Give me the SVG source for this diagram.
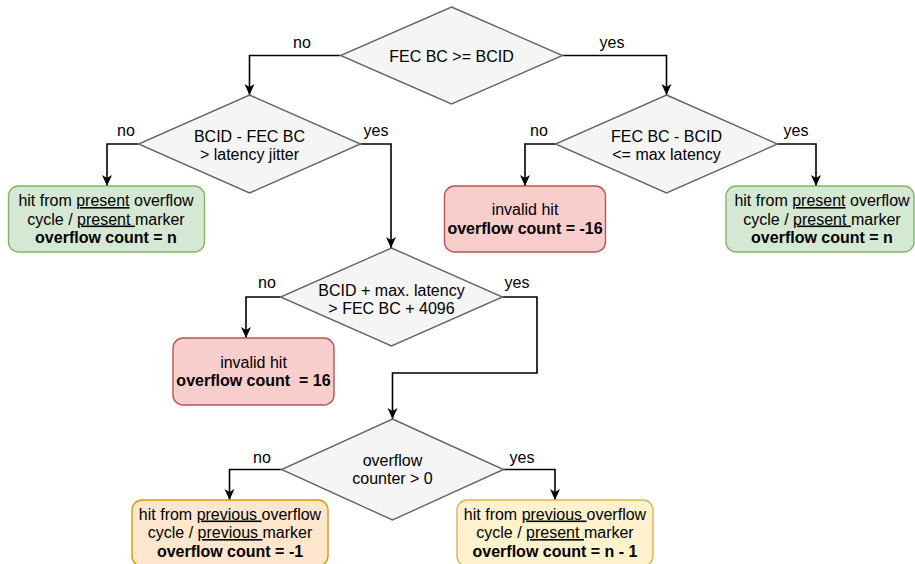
<svg xmlns="http://www.w3.org/2000/svg" width="915" height="564" viewBox="0 0 915 564">
<style>
text{font-family:"Liberation Sans",Arial,sans-serif;font-size:16px;fill:#000;white-space:pre}
.c{text-anchor:middle}
.b{font-weight:bold}
.u{text-decoration:underline}
.dia{fill:#f5f5f5;stroke:#666666;stroke-width:1.4}
.green{fill:#d5e8d4;stroke:#82b366;stroke-width:1.4}
.red{fill:#f8cecc;stroke:#b85450;stroke-width:1.4}
.orange{fill:#ffe6cc;stroke:#d79b00;stroke-width:1.4}
.yellow{fill:#fff2cc;stroke:#d6b656;stroke-width:1.4}
.e{fill:none;stroke:#000;stroke-width:1.6;marker-end:url(#arr)}
</style>
<defs>
<marker id="arr" markerUnits="userSpaceOnUse" markerWidth="12" markerHeight="12" viewBox="0 0 12 12" refX="11" refY="6" orient="auto">
<path d="M0,1 L11,6 L0,11 L3,6 Z" fill="#000"/>
</marker>
</defs>
<g id="connectors">
<path class="e" d="M340,55.5 H249.5 V95"/>
<path class="e" d="M562.5,55.5 H666.5 V95"/>
<path class="e" d="M138.5,144 H107 V186"/>
<path class="e" d="M360.5,144 H391 V248"/>
<path class="e" d="M555.5,144 H525 V186"/>
<path class="e" d="M777.5,144 H816 V186"/>
<path class="e" d="M280.5,297 H246 V338"/>
<path class="e" d="M502.5,297 H537 V373 H392.5 V419"/>
<path class="e" d="M281.5,469.5 H229.5 V500"/>
<path class="e" d="M503.5,469.5 H555 V500"/>
<text class="c" x="302" y="48">no</text>
<text class="c" x="612" y="48">yes</text>
<text class="c" x="126" y="136">no</text>
<text class="c" x="376" y="136">yes</text>
<text class="c" x="539" y="136">no</text>
<text class="c" x="796" y="136">yes</text>
<text class="c" x="267" y="288">no</text>
<text class="c" x="517" y="288">yes</text>
<text class="c" x="262" y="463">no</text>
<text class="c" x="522" y="463">yes</text>
</g>
<g id="d1">
<polygon class="dia" points="451.5,7 562.5,55.5 451.5,104 340.5,55.5"/>
<text class="c" x="451.5" y="61.5">FEC BC &gt;= BCID</text>
</g>
<g id="d2">
<polygon class="dia" points="249.5,95 360.5,144 249.5,193 138.5,144"/>
<text class="c" x="249.5" y="141.5">BCID - FEC BC</text>
<text class="c" x="249.5" y="160">&gt; latency jitter</text>
</g>
<g id="d3">
<polygon class="dia" points="666.5,95 777.5,144 666.5,193 555.5,144"/>
<text class="c" x="666.5" y="141.5">FEC BC - BCID</text>
<text class="c" x="666.5" y="160">&lt;= max latency</text>
</g>
<g id="g1">
<rect class="green" x="8.5" y="186" width="196" height="66" rx="10"/>
<text class="c" x="106" y="206">hit from <tspan class="u">present</tspan> overflow</text>
<text class="c" x="106" y="224.5">cycle / <tspan class="u">present </tspan>marker</text>
<text class="c b" x="106" y="243">overflow count = n</text>
</g>
<g id="r1">
<rect class="red" x="444.5" y="186" width="161" height="66" rx="10"/>
<text class="c" x="525" y="215">invalid hit</text>
<text class="c b" x="525" y="234">overflow count = -16</text>
</g>
<g id="g2">
<rect class="green" x="726" y="186" width="188" height="66" rx="10"/>
<text class="c" x="822" y="206">hit from <tspan class="u">present</tspan> overflow</text>
<text class="c" x="822" y="224.5">cycle / <tspan class="u">present </tspan>marker</text>
<text class="c b" x="822" y="243">overflow count = n</text>
</g>
<g id="d4">
<polygon class="dia" points="391.5,248 502.5,297 391.5,346 280.5,297"/>
<text class="c" x="391.5" y="295.5">BCID + max. latency</text>
<text class="c" x="391.5" y="314">&gt; FEC BC + 4096</text>
</g>
<g id="r2">
<rect class="red" x="173" y="338" width="161" height="67" rx="10"/>
<text class="c" x="253.5" y="367.5">invalid hit</text>
<text class="c b" x="253.5" y="386">overflow count  = 16</text>
</g>
<g id="d5">
<polygon class="dia" points="392.5,419 503.5,469.5 392.5,520 281.5,469.5"/>
<text class="c" x="392.5" y="465.5">overflow</text>
<text class="c" x="392.5" y="484">counter &gt; 0</text>
</g>
<g id="o1">
<rect class="orange" x="132" y="500" width="196" height="66" rx="10"/>
<text class="c" x="230" y="519.5">hit from <tspan class="u">previous </tspan>overflow</text>
<text class="c" x="230" y="538">cycle / <tspan class="u">previous </tspan>marker</text>
<text class="c b" x="230" y="556.5">overflow count = -1</text>
</g>
<g id="y1">
<rect class="yellow" x="457" y="500" width="196" height="66" rx="10"/>
<text class="c" x="555" y="519.5">hit from <tspan class="u">previous </tspan>overflow</text>
<text class="c" x="555" y="538">cycle / <tspan class="u">present </tspan>marker</text>
<text class="c b" x="555" y="556.5">overflow count = n - 1</text>
</g>
</svg>
